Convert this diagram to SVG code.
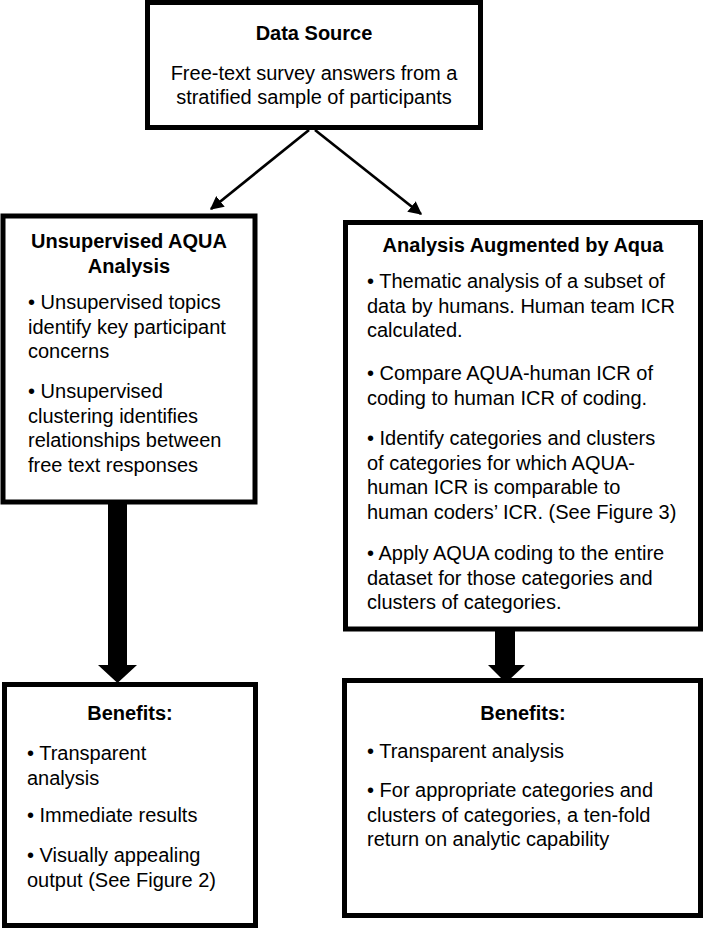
<svg xmlns="http://www.w3.org/2000/svg" width="704" height="928" viewBox="0 0 704 928">
<style>
.box{fill:#fff;stroke:#000;stroke-width:5}
text{font-family:"Liberation Sans",Arial,sans-serif;font-size:20px;fill:#000}
.h{font-weight:bold;text-anchor:middle}
.c{text-anchor:middle}
.thin{stroke:#000;stroke-width:2.7;fill:none}
</style>
<defs>
<marker id="ah" viewBox="0 0 10 10" refX="9" refY="5" markerWidth="5" markerHeight="5" orient="auto" markerUnits="strokeWidth">
<path d="M0,0 L10,5 L0,10 z" fill="#000"/>
</marker>
</defs>
<rect width="704" height="928" fill="#fff"/>
<g id="connectors">
<line class="thin" x1="309" y1="130" x2="211" y2="209" marker-end="url(#ah)"/>
<line class="thin" x1="315" y1="130" x2="421" y2="214" marker-end="url(#ah)"/>
<polygon points="108,504 127,504 127,665 137,665 117.5,683 98,665 108,665" fill="#000"/>
<polygon points="495,631 515,631 515,665 525,665 506,683 488,665 495,665" fill="#000"/>
</g>
<g id="data-source">
<rect class="box" x="147.5" y="2.5" width="333" height="125"/>
<text class="h" x="314" y="40">Data Source</text>
<text class="c" x="314" y="80">Free-text survey answers from a</text>
<text class="c" x="314" y="104">stratified sample of participants</text>
</g>
<g id="unsupervised">
<rect class="box" x="3" y="216" width="252" height="286"/>
<text class="h" x="129" y="248">Unsupervised AQUA</text>
<text class="h" x="129" y="272.5">Analysis</text>
<text x="28" y="309">• Unsupervised topics</text>
<text x="28" y="333.5">identify key participant</text>
<text x="28" y="358">concerns</text>
<text x="28" y="398">• Unsupervised</text>
<text x="28" y="422.5">clustering identifies</text>
<text x="28" y="447">relationships between</text>
<text x="28" y="471.5">free text responses</text>
</g>
<g id="augmented">
<rect class="box" x="345.5" y="222.5" width="355" height="406.5"/>
<text class="h" x="523" y="252">Analysis Augmented by Aqua</text>
<text x="367" y="288">• Thematic analysis of a subset of</text>
<text x="367" y="312.5">data by humans. Human team ICR</text>
<text x="367" y="337">calculated.</text>
<text x="367" y="380">• Compare AQUA-human ICR of</text>
<text x="367" y="404.5">coding to human ICR of coding.</text>
<text x="367" y="445">• Identify categories and clusters</text>
<text x="367" y="469.5">of categories for which AQUA-</text>
<text x="367" y="494">human ICR is comparable to</text>
<text x="367" y="518.5">human coders’ ICR. (See Figure 3)</text>
<text x="367" y="560">• Apply AQUA coding to the entire</text>
<text x="367" y="584.5">dataset for those categories and</text>
<text x="367" y="609">clusters of categories.</text>
</g>
<g id="benefits-left">
<rect class="box" x="4.5" y="684.5" width="251" height="241"/>
<text class="h" x="130" y="720">Benefits:</text>
<text x="27" y="760">• Transparent</text>
<text x="27" y="784.5">analysis</text>
<text x="27" y="822">• Immediate results</text>
<text x="27" y="862">• Visually appealing</text>
<text x="27" y="886.5">output (See Figure 2)</text>
</g>
<g id="benefits-right">
<rect class="box" x="344.5" y="680.5" width="356" height="235"/>
<text class="h" x="523" y="720">Benefits:</text>
<text x="367" y="758">• Transparent analysis</text>
<text x="367" y="797">• For appropriate categories and</text>
<text x="367" y="821.5">clusters of categories, a ten-fold</text>
<text x="367" y="846">return on analytic capability</text>
</g>
</svg>
